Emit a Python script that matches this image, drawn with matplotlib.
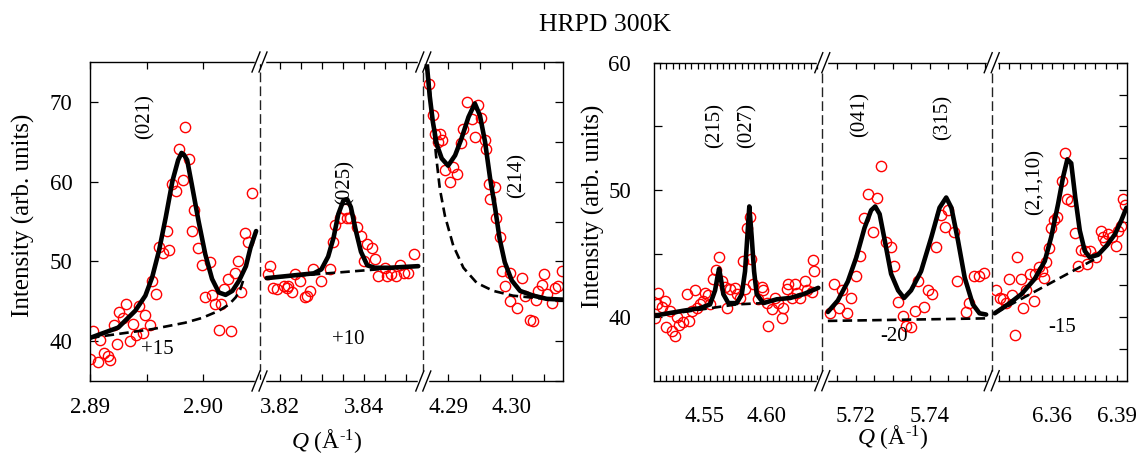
import matplotlib
matplotlib.use("Agg")
import matplotlib.pyplot as plt
from matplotlib.ticker import MultipleLocator, FuncFormatter, FixedLocator
from matplotlib.lines import Line2D

plt.rcParams['font.family'] = ['Liberation Serif', 'DejaVu Serif']
plt.rcParams['mathtext.fontset'] = 'custom'
plt.rcParams['mathtext.rm'] = 'Liberation Serif'
plt.rcParams['mathtext.it'] = 'Liberation Serif:italic'

# ---------------- data: left group ----------------
# panel (021)
q021 = [2.8900, 2.8907, 2.8903, 2.8909, 2.8912, 2.8916, 2.8918, 2.8921, 2.8924, 2.8926,
        2.8929, 2.8932, 2.8935, 2.8938, 2.8943, 2.8941, 2.8947, 2.8949, 2.8953, 2.8955,
        2.8958, 2.8961, 2.8965, 2.8968, 2.8970, 2.8973, 2.8976, 2.8979, 2.8982, 2.8984,
        2.8988, 2.8990, 2.8992, 2.8996, 2.8999, 2.9002, 2.9006, 2.9008, 2.9011, 2.9014,
        2.9016, 2.9019, 2.9022, 2.9025, 2.9028, 2.9031, 2.9034, 2.9037, 2.9040, 2.9043]
i021 = [37.7, 37.4, 41.3, 40.1, 38.5, 38.1, 37.6, 42.0, 39.7, 43.6,
        42.9, 44.7, 40.0, 42.1, 44.4, 40.8, 41.0, 43.3, 42.0, 47.6,
        45.9, 51.8, 51.1, 53.8, 51.4, 59.7, 58.8, 64.1, 60.2, 66.9,
        62.8, 53.8, 56.5, 51.7, 49.6, 45.5, 49.9, 45.8, 44.7, 41.4,
        44.7, 46.5, 47.8, 41.3, 48.5, 50.0, 46.1, 53.5, 52.4, 58.6]
q021_fit = [2.8900, 2.8925, 2.8940, 2.8949, 2.8955, 2.8961, 2.8967, 2.8973, 2.8978, 2.8981,
            2.8983, 2.8986, 2.8990, 2.8996, 2.9002, 2.9008, 2.9014, 2.9020, 2.9026, 2.9032,
            2.9038, 2.9042, 2.9047]
i021_fit = [40.4, 41.7, 43.8, 45.7, 48.0, 51.3, 55.5, 60.1, 62.7, 63.6,
            63.4, 62.7, 59.7, 55.1, 50.9, 47.8, 46.1, 45.8, 46.3, 47.6,
            49.4, 51.7, 53.8]
q021_bg = [2.8900, 2.8925, 2.8955, 2.8984, 2.8999, 2.9014, 2.9023, 2.9029, 2.9033, 2.9036]
i021_bg = [40.4, 40.9, 41.5, 42.3, 42.9, 43.8, 44.6, 45.5, 46.5, 47.8]

# panel (025)
q025 = [3.8172, 3.8175, 3.8184, 3.8192, 3.8208, 3.8216, 3.8218, 3.8228, 3.8236, 3.8247,
        3.8258, 3.8263, 3.8271, 3.8279, 3.8297, 3.8319, 3.8325, 3.8330, 3.8341, 3.8353,
        3.8358, 3.8366, 3.8382, 3.8392, 3.8398, 3.8407, 3.8418, 3.8425, 3.8433, 3.8449,
        3.8453, 3.8463, 3.8474, 3.8485, 3.8494, 3.8504, 3.8518]
i025 = [48.4, 49.4, 46.7, 46.5, 46.9, 46.7, 46.9, 46.2, 48.4, 47.6,
        45.5, 45.6, 46.3, 49.0, 47.6, 49.0, 52.4, 54.5, 55.5, 56.6,
        55.5, 55.5, 54.3, 53.2, 50.1, 52.2, 51.7, 50.3, 48.2, 49.2,
        48.2, 48.4, 48.2, 49.6, 48.6, 48.6, 50.9]
q025_fit = [3.8168, 3.8280, 3.8298, 3.8314, 3.8327, 3.8338, 3.8350, 3.8359, 3.8368, 3.8380,
            3.8392, 3.8407, 3.8425, 3.8460, 3.8528]
i025_fit = [47.9, 48.5, 49.0, 50.6, 53.0, 55.9, 57.6, 57.8, 56.8, 53.8,
            51.2, 49.5, 49.2, 49.2, 49.4]
q025_bg = [3.8168, 3.8528]
i025_bg = [47.9, 49.4]

# panel (214)
q214 = [4.2870, 4.2876, 4.2879, 4.2884, 4.2887, 4.2891, 4.2895, 4.2903, 4.2908, 4.2914,
        4.2920, 4.2924, 4.2929, 4.2937, 4.2942, 4.2947, 4.2952, 4.2958, 4.2959, 4.2965,
        4.2966, 4.2974, 4.2976, 4.2982, 4.2984, 4.2989, 4.2997, 4.2998, 4.3008, 4.3016,
        4.3021, 4.3029, 4.3034, 4.3038, 4.3042, 4.3047, 4.3051, 4.3055, 4.3063, 4.3068,
        4.3073, 4.3079]
i214 = [72.3, 68.4, 66.0, 65.0, 66.0, 65.2, 61.4, 59.9, 61.8, 61.0,
        64.9, 66.6, 70.0, 67.9, 65.6, 69.6, 68.0, 65.2, 64.1, 59.7,
        57.8, 59.3, 55.5, 53.0, 48.8, 46.9, 48.6, 45.0, 44.1, 47.9,
        45.6, 42.7, 42.5, 45.2, 46.3, 47.1, 48.4, 45.9, 44.8, 46.7,
        46.9, 48.8]
q214_fit = [4.2864, 4.2871, 4.2876, 4.2882, 4.2890, 4.2900, 4.2911, 4.2921, 4.2932, 4.2942,
            4.2950, 4.2958, 4.2966, 4.2974, 4.2981, 4.2989, 4.3000, 4.3013, 4.3034, 4.3055,
            4.3081]
i214_fit = [77.0, 70.8, 67.5, 64.7, 62.9, 62.0, 63.3, 65.4, 68.1, 69.8,
            68.3, 65.0, 60.4, 56.6, 52.8, 49.9, 47.6, 46.3, 45.7, 45.3,
            45.2]
q214_bg = [4.2864, 4.2869, 4.2876, 4.2881, 4.2887, 4.2895, 4.2908, 4.2924, 4.2945, 4.2971,
           4.3002, 4.3039, 4.3081]
i214_bg = [77.0, 73.4, 67.5, 63.3, 59.1, 55.7, 52.0, 49.2, 47.3, 46.3,
           45.7, 45.4, 45.2]

# ---------------- data: right group ----------------
# panel (215)/(027)
q215 = [4.5109, 4.5123, 4.5136, 4.5163, 4.5189, 4.5197, 4.5229, 4.5242, 4.5269, 4.5282,
        4.5303, 4.5335, 4.5362, 4.5383, 4.5402, 4.5428, 4.5442, 4.5468, 4.5494, 4.5508,
        4.5534, 4.5548, 4.5574, 4.5596, 4.5622, 4.5641, 4.5667, 4.5686, 4.5707, 4.5747,
        4.5763, 4.5787, 4.5813, 4.5827, 4.5841, 4.5867, 4.5875, 4.5893, 4.5933, 4.5960,
        4.5973, 4.6000, 4.6013, 4.6040, 4.6066, 4.6093, 4.6120, 4.6132, 4.6159, 4.6172,
        4.6199, 4.6226, 4.6239, 4.6266, 4.6305, 4.6320, 4.6359, 4.6367, 4.6377]
i215 = [39.9, 41.0, 41.9, 40.8, 41.3, 39.2, 40.5, 38.9, 38.5, 40.0,
        39.4, 39.6, 41.8, 39.7, 40.5, 42.1, 40.7, 41.0, 41.3, 41.9,
        41.7, 41.0, 43.0, 43.7, 44.7, 42.8, 42.4, 40.7, 42.2, 42.3,
        41.8, 41.5, 44.4, 42.2, 47.0, 47.9, 44.6, 42.6, 41.4, 42.4,
        42.1, 41.1, 39.3, 40.6, 41.5, 41.1, 39.9, 40.7, 42.2, 42.6,
        41.5, 42.6, 41.9, 41.5, 42.8, 42.1, 42.0, 44.5, 43.6]
q215_fit = [4.5096, 4.5335, 4.5468, 4.5548, 4.5588, 4.5606, 4.5620, 4.5633, 4.5654, 4.5694,
            4.5761, 4.5801, 4.5827, 4.5845, 4.5861, 4.5880, 4.5899, 4.5920, 4.5973, 4.6080,
            4.6186, 4.6292, 4.6411]
i215_fit = [40.1, 40.5, 40.7, 41.0, 42.1, 43.1, 43.8, 43.1, 41.8, 41.1,
            41.1, 41.8, 43.6, 46.3, 48.7, 46.3, 43.6, 41.8, 41.1, 41.4,
            41.5, 41.8, 42.3]
q215_bg = [4.5096, 4.5335, 4.5548, 4.5761, 4.5973]
i215_bg = [40.1, 40.4, 40.7, 41.0, 41.1]

# panel (041)/(315)
q041 = [5.7129, 5.7141, 5.7153, 5.7162, 5.7176, 5.7186, 5.7201, 5.7210, 5.7222, 5.7232,
        5.7246, 5.7257, 5.7268, 5.7282, 5.7294, 5.7303, 5.7314, 5.7327, 5.7336, 5.7348,
        5.7360, 5.7369, 5.7384, 5.7395, 5.7406, 5.7417, 5.7429, 5.7440, 5.7449, 5.7465,
        5.7474, 5.7498, 5.7505, 5.7519, 5.7532, 5.7545]
i041 = [40.3, 42.6, 40.7, 42.1, 40.3, 41.5, 43.2, 44.8, 47.8, 49.7,
        46.7, 49.4, 51.9, 45.9, 45.5, 44.0, 41.2, 40.1, 39.3, 39.2,
        40.5, 42.8, 40.8, 42.1, 41.8, 45.5, 48.0, 47.1, 48.4, 46.7,
        42.8, 40.4, 41.1, 43.2, 43.2, 43.5]
q041_fit = [5.7124, 5.7151, 5.7178, 5.7201, 5.7223, 5.7241, 5.7252, 5.7264, 5.7278, 5.7295,
            5.7314, 5.7330, 5.7349, 5.7376, 5.7404, 5.7426, 5.7444, 5.7458, 5.7476, 5.7494,
            5.7516, 5.7534, 5.7552]
i041_fit = [40.4, 41.3, 42.8, 44.7, 47.0, 48.4, 48.7, 48.1, 46.0, 43.4,
            42.1, 41.5, 42.1, 43.6, 46.3, 48.6, 49.4, 48.6, 46.0, 43.1,
            41.0, 40.3, 40.2]
q041_bg = [5.7124, 5.7552]
i041_bg = [39.7, 39.9]

# panel (2,1,10)
q2110 = [6.3339, 6.3355, 6.3370, 6.3386, 6.3397, 6.3412, 6.3425, 6.3437, 6.3453, 6.3464,
         6.3479, 6.3495, 6.3515, 6.3518, 6.3537, 6.3553, 6.3561, 6.3572, 6.3585, 6.3595,
         6.3608, 6.3623, 6.3645, 6.3658, 6.3670, 6.3686, 6.3707, 6.3720, 6.3732, 6.3751,
         6.3763, 6.3774, 6.3805, 6.3828, 6.3836, 6.3847, 6.3859, 6.3878, 6.3895, 6.3906,
         6.3919, 6.3929, 6.3939]
i2110 = [42.1, 41.5, 41.4, 41.1, 43.0, 41.7, 38.6, 44.7, 43.0, 40.7,
         42.1, 43.4, 41.3, 43.4, 43.9, 43.6, 43.1, 44.3, 45.4, 47.0,
         47.6, 47.9, 50.7, 52.9, 49.3, 49.1, 46.6, 44.0, 45.3, 45.2,
         44.2, 45.2, 44.7, 46.8, 46.3, 46.0, 46.5, 46.3, 45.6, 46.8,
         47.2, 49.3, 48.8]
q2110_fit = [6.3332, 6.3394, 6.3456, 6.3518, 6.3565, 6.3595, 6.3627, 6.3650, 6.3670, 6.3688,
             6.3707, 6.3728, 6.3751, 6.3774, 6.3813, 6.3852, 6.3891, 6.3921, 6.3945]
i2110_fit = [40.3, 41.0, 41.8, 43.0, 44.4, 46.3, 48.9, 51.0, 52.4, 52.1,
             49.4, 46.8, 45.2, 44.7, 44.9, 45.6, 46.5, 47.6, 48.6]
q2110_bg = [6.3332, 6.3813]
i2110_bg = [40.3, 44.7]

# axis ranges and tick labels
left_xlims = [(2.890, 2.9050), (3.8151, 3.8540), (4.2861, 4.3081)]
right_xlims = [(4.5101, 4.6443), (5.7109, 5.7567), (6.3318, 6.3949)]
left_xlabels = [[2.89, 2.90], [3.82, 3.84], [4.29, 4.30]]
right_xlabels = [[4.55, 4.60], [5.72, 5.74], [6.36, 6.39]]
left_ylim = (35, 75)
right_ylim = (35, 60)
left_yticks = [40, 50, 60, 70]
right_yticks = [40, 50, 60]

# ---------------- figure ----------------
W, H = 1141, 455
fig = plt.figure(figsize=(W / 100, H / 100), dpi=100)

def fx(px):
    return px / W

def fy(py):
    return 1 - py / H

def make_group(xb, ytop, ybot):
    axes = []
    for k in range(3):
        ax = fig.add_axes([fx(xb[k]), fy(ybot), (xb[k + 1] - xb[k]) / W, (ybot - ytop) / H])
        axes.append(ax)
    return axes

left_axes = make_group([90, 259.5, 423.3, 563.3], 62, 381)
right_axes = make_group([654, 822.3, 991.7, 1127.3], 62.7, 380.7)

RED = '#ff0000'
marker_kw = dict(ls='none', marker='o', ms=7.4, mfc='none', mec=RED, mew=1.0, zorder=2)
fit_kw = dict(color='black', lw=3.3, solid_capstyle='round', solid_joinstyle='round', zorder=4)
bg_kw = dict(color='black', lw=1.9, dashes=(3.6, 2.0), zorder=3)

left_data = [(q021, i021, q021_fit, i021_fit, q021_bg, i021_bg),
             (q025, i025, q025_fit, i025_fit, q025_bg, i025_bg),
             (q214, i214, q214_fit, i214_fit, q214_bg, i214_bg)]
right_data = [(q215, i215, q215_fit, i215_fit, q215_bg, i215_bg),
              (q041, i041, q041_fit, i041_fit, q041_bg, i041_bg),
              (q2110, i2110, q2110_fit, i2110_fit, q2110_bg, i2110_bg)]

def style_group(axes, data, xlims, xlabs, ylim, yticks, yminor, yright_step, xpad, ypad, ticklen):
    n = len(axes)
    for k, ax in enumerate(axes):
        qo, io, qf, iff, qb, ib = data[k]
        ax.plot(qo, io, **marker_kw)
        ax.plot(qb, ib, **bg_kw)
        ax.plot(qf, iff, **fit_kw)
        ax.set_xlim(*xlims[k])
        ax.set_ylim(*ylim)
        labs = xlabs[k]
        ax.xaxis.set_major_locator(FixedLocator(labs))
        ax.xaxis.set_major_formatter(FuncFormatter(lambda v, p: f"{v:.2f}"))
        ax.xaxis.set_minor_locator(MultipleLocator(0.005))
        ax.tick_params(axis='x', which='both', direction='in', top=True, bottom=True,
                       length=ticklen, width=0.9, labelsize=16.5, pad=xpad)
        for s in ['top', 'bottom', 'left', 'right']:
            ax.spines[s].set_linewidth(1.0)
        ax.spines['left'].set_visible(k == 0)
        ax.spines['right'].set_visible(k == n - 1)
        if k == 0:
            ax.yaxis.set_major_locator(FixedLocator(yticks))
            if yminor:
                ax.yaxis.set_minor_locator(FixedLocator(yminor))
            ax.tick_params(axis='y', which='both', direction='in', left=True, right=False,
                           length=6, width=0.9, labelsize=16.5, pad=ypad)
        elif k == n - 1:
            ax.yaxis.set_major_locator(MultipleLocator(yright_step))
            ax.yaxis.set_minor_locator(FixedLocator([]))
            ax.tick_params(axis='y', which='both', direction='in', left=False, right=True,
                           labelleft=False, length=6, width=0.9)
        else:
            ax.tick_params(axis='y', which='both', left=False, right=False, labelleft=False)
        ax.patch.set_alpha(0)

style_group(left_axes, left_data, left_xlims, left_xlabels, left_ylim, left_yticks, None, 5, 11.5, 12.5, 5)
style_group(right_axes, right_data, right_xlims, right_xlabels, right_ylim, right_yticks, [45, 55], 2.5, 18, 16.5, 4)

# separators and break marks (decoration, figure pixel coordinates)
def separator(xp, ytop, ybot):
    fig.add_artist(Line2D([fx(xp), fx(xp)], [fy(ytop + 10), fy(ybot - 10)], transform=fig.transFigure,
                          color='#222222', lw=1.0, dashes=(7, 3)))
    for yc in (ytop, ybot):
        fig.add_artist(Line2D([fx(xp - 4), fx(xp + 4)], [fy(yc), fy(yc)], transform=fig.transFigure,
                              color='white', lw=2.5, zorder=5))
        for dx in (-3.5, 3.5):
            fig.add_artist(Line2D([fx(xp + dx - 4), fx(xp + dx + 4)], [fy(yc + 10), fy(yc - 10)],
                                  transform=fig.transFigure, color='black', lw=1.0, zorder=6))

for xp in (259.5, 423.3):
    separator(xp, 62, 381)
for xp in (822.3, 991.7):
    separator(xp, 62.7, 380.7)

# annotations
ann_kw = dict(fontsize=15, ha='center', va='center', zorder=7)
left_axes[0].text(2.8949, 68.1, '(021)', rotation=90, **ann_kw)
left_axes[0].text(2.8960, 39.0, '+15', **ann_kw)
left_axes[1].text(3.8354, 59.9, '(025)', rotation=90, **ann_kw)
left_axes[1].text(3.8361, 40.25, '+10', **ann_kw)
left_axes[2].text(4.3008, 60.8, '(214)', rotation=90, **ann_kw)
right_axes[0].text(4.5588, 55.1, '(215)', rotation=90, **ann_kw)
right_axes[0].text(4.5840, 55.1, '(027)', rotation=90, **ann_kw)
right_axes[1].text(5.7211, 55.9, '(041)', rotation=90, **ann_kw)
right_axes[1].text(5.7436, 55.7, '(315)', rotation=90, **ann_kw)
right_axes[2].text(6.3519, 50.6, '(2,1,10)', rotation=90, **ann_kw)
right_axes[1].text(5.7303, 38.5, '-20', **ann_kw)
right_axes[2].text(6.3644, 39.2, '-15', **ann_kw)

# titles and axis labels
xlab = r'$Q$ (Å$^{\text{-}1}$)'
fig.text(fx(605), fy(25), 'HRPD 300K', fontsize=18.5, ha='center', va='center')
fig.text(fx(23), fy(215), 'Intensity (arb. units)', fontsize=18, rotation=90, ha='center', va='center')
fig.text(fx(593), fy(206), 'Intensity (arb. units)', fontsize=18, rotation=90, ha='center', va='center')
fig.text(fx(327), fy(441), xlab, fontsize=17, ha='center', va='center')
fig.text(fx(893), fy(437), xlab, fontsize=17, ha='center', va='center')

fig.savefig('out.png', dpi=100)
